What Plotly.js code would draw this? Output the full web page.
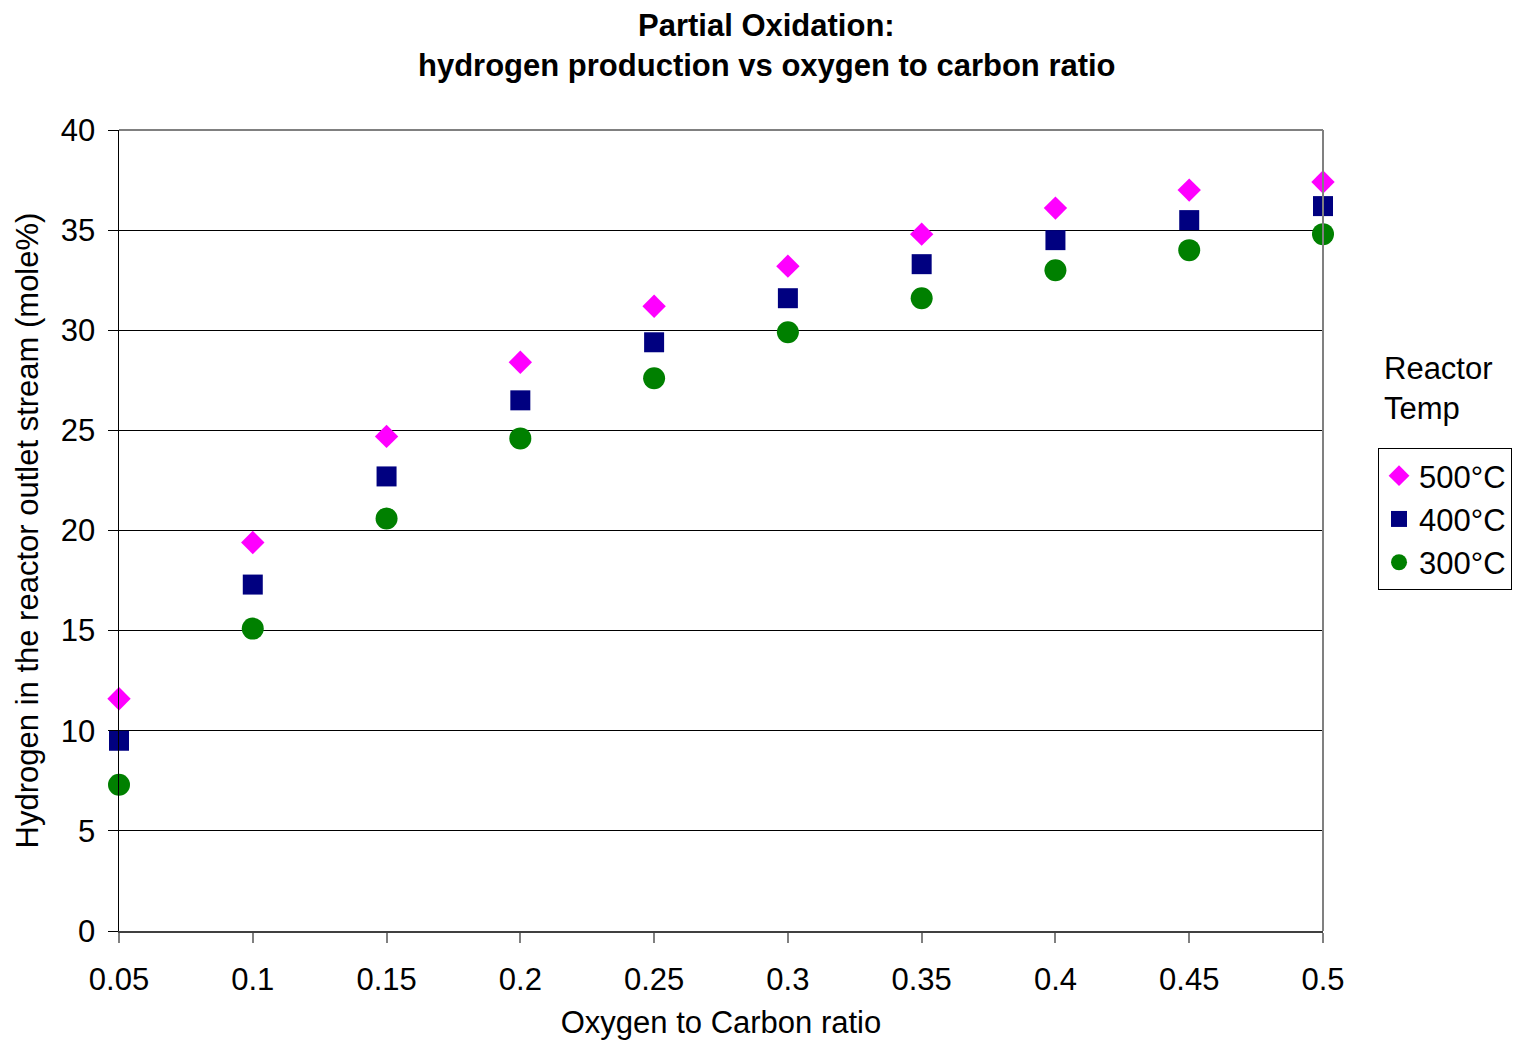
<!DOCTYPE html>
<html>
<head>
<meta charset="utf-8">
<script src="https://cdn.plot.ly/plotly-3.0.1.min.js"></script>
<style>
  html, body { margin: 0; padding: 0; background: #fff; }
  #chart { width: 1513px; height: 1042px; }
</style>
</head>
<body>
<div id="chart"></div>
<script>
// Oxygen to carbon ratio (x) and hydrogen mole% at each reactor temperature
const ratio = [0.05, 0.1, 0.15, 0.2, 0.25, 0.3, 0.35, 0.4, 0.45, 0.5];
const h2At500 = [11.6, 19.4, 24.7, 28.4, 31.2, 33.2, 34.8, 36.1, 37.0, 37.4];
const h2At400 = [9.5, 17.3, 22.7, 26.5, 29.4, 31.6, 33.3, 34.5, 35.5, 36.2];
const h2At300 = [7.3, 15.1, 20.6, 24.6, 27.6, 29.9, 31.6, 33.0, 34.0, 34.8];
const seriesNames = ['500°C', '400°C', '300°C'];
const xTicks = [0.05, 0.1, 0.15, 0.2, 0.25, 0.3, 0.35, 0.4, 0.45, 0.5];
const xTickText = ['0.05', '0.1', '0.15', '0.2', '0.25', '0.3', '0.35', '0.4', '0.45', '0.5'];

const font = 'Liberation Sans, Arial, sans-serif';
const fs = 31;

const traces = [
  { y: h2At500, name: seriesNames[0], legendgroup: 'a', marker: { symbol: 'diamond', size: 18, color: '#FF00FF' } },
  { y: h2At400, name: seriesNames[1], legendgroup: 'b', marker: { symbol: 'square', size: 20, color: '#000080' } },
  { y: h2At300, name: seriesNames[2], legendgroup: 'c', marker: { symbol: 'circle', size: 22, color: '#008000' } }
].map(t => Object.assign({ x: ratio, type: 'scatter', mode: 'markers', cliponaxis: false }, t));

const layout = {
  width: 1513,
  height: 1042,
  paper_bgcolor: '#fff',
  plot_bgcolor: '#fff',
  margin: { l: 119, r: 190, t: 130, b: 111, autoexpand: false },
  font: { family: font, size: fs, color: '#000' },
  xaxis: {
    range: [0.05, 0.5],
    tickvals: xTicks,
    ticktext: xTickText,
    showgrid: false,
    zeroline: false,
    showline: true,
    linecolor: '#404040',
    linewidth: 2,
    ticks: 'outside',
    ticklen: 10,
    tickwidth: 2,
    tickcolor: '#808080',
    ticklabelstandoff: 10,
    tickfont: { family: font, size: fs },
    title: { text: 'Oxygen to Carbon ratio', font: { family: font, size: fs }, standoff: 15 }
  },
  yaxis: {
    range: [0, 40],
    dtick: 5,
    showgrid: true,
    gridcolor: '#000',
    gridwidth: 1,
    zeroline: false,
    showline: true,
    linecolor: '#000',
    linewidth: 1.5,
    ticks: 'outside',
    ticklen: 10,
    tickwidth: 1,
    tickcolor: '#000',
    ticklabelstandoff: 6,
    tickfont: { family: font, size: fs },
    title: { text: 'Hydrogen in the reactor outlet stream (mole%)', font: { family: font, size: fs }, standoff: 13 }
  },
  showlegend: true,
  legend: {
    x: 1.0457, xanchor: 'left',
    y: 0.603, yanchor: 'top',
    bgcolor: '#fff',
    bordercolor: '#000',
    borderwidth: 1,
    font: { family: font, size: fs, color: '#000' },
    itemwidth: 30,
    tracegroupgap: 0
  },
  shapes: [
    { type: 'line', xref: 'paper', yref: 'paper', x0: 0, x1: 1, y0: 1, y1: 1, line: { color: '#808080', width: 2 } },
    { type: 'line', xref: 'paper', yref: 'paper', x0: 1, x1: 1, y0: 0, y1: 1, line: { color: '#808080', width: 2 } }
  ],
  annotations: [
    {
      text: '<b>Partial Oxidation:</b>',
      xref: 'paper', yref: 'paper', x: 0.538, y: 1.131,
      xanchor: 'center', yanchor: 'middle', showarrow: false,
      font: { family: font, size: fs, color: '#000' }
    },
    {
      text: '<b>hydrogen production vs oxygen to carbon ratio</b>',
      xref: 'paper', yref: 'paper', x: 0.538, y: 1.081,
      xanchor: 'center', yanchor: 'middle', showarrow: false,
      font: { family: font, size: fs, color: '#000' }
    },
    {
      text: 'Reactor<br>Temp',
      xref: 'paper', yref: 'paper',
      x: 1.049, y: 0.727, xanchor: 'left', yanchor: 'top',
      align: 'left', showarrow: false,
      font: { family: font, size: fs, color: '#000' }
    }
  ]
};

Plotly.newPlot('chart', traces, layout, { staticPlot: true, displayModeBar: false });
</script>
</body>
</html>
